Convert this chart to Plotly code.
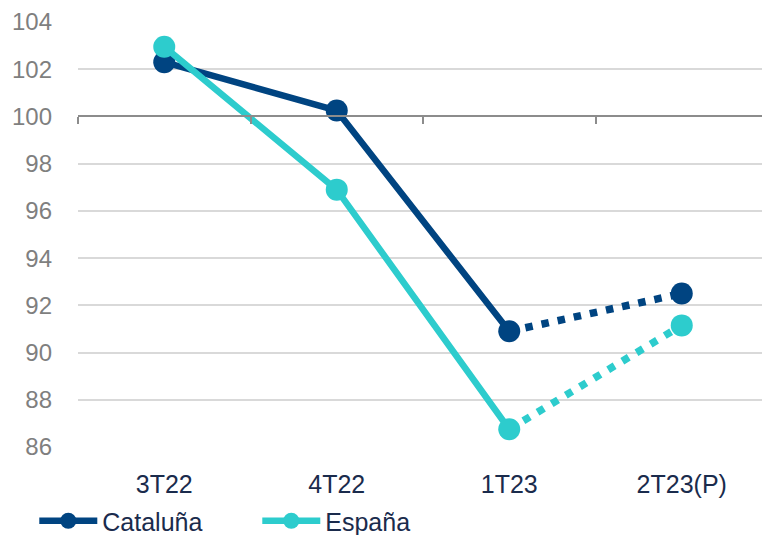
import plotly.graph_objects as go

categories = ["3T22", "4T22", "1T23", "2T23(P)"]
cataluna = [102.3, 100.25, 90.9, 92.5]
espana = [102.95, 96.9, 86.75, 91.15]
y_ticks = [86, 88, 90, 92, 94, 96, 98, 100, 102, 104]

NAVY = "#004481"
TEAL = "#2DCCCD"
FONT = "Liberation Sans, Arial, sans-serif"
TXT = "#1A2B4C"

fig = go.Figure()

def add_series(name, vals, color):
    # dotted projection segment
    fig.add_trace(go.Scatter(
        x=categories[2:], y=vals[2:], mode="lines",
        line=dict(color=color, width=7.5, dash="7.5px,9px"),
        showlegend=False, hoverinfo="skip"))
    fig.add_trace(go.Scatter(
        x=categories[3:], y=vals[3:], mode="markers",
        marker=dict(size=22, color=color, opacity=1),
        showlegend=False, hoverinfo="skip"))
    fig.add_trace(go.Scatter(
        x=categories[:3], y=vals[:3], mode="lines+markers", name=name,
        line=dict(color=color, width=6.5),
        marker=dict(size=22, color=color, opacity=1)))

add_series("Cataluña", cataluna, NAVY)
add_series("España", espana, TEAL)

ymin, ymax = 86, 104
# helper axis drawn at y=100 with boundary ticks
fig.add_trace(go.Scatter(x=categories, y=[None] * 4, xaxis="x2",
                         showlegend=False, hoverinfo="skip"))

xr = [-0.5, -0.5 + 684 / 172.5]
fig.update_layout(
    width=762, height=535,
    margin=dict(l=78, r=0, t=22, b=88),
    paper_bgcolor="white", plot_bgcolor="white",
    font=dict(family=FONT),
    xaxis=dict(type="category", categoryorder="array", categoryarray=categories,
               range=xr, showgrid=False, showline=False,
               ticks="", zeroline=False, ticklabelstandoff=20,
               tickfont=dict(size=25, color=TXT, family=FONT)),
    xaxis2=dict(type="category", categoryorder="array", categoryarray=categories,
                range=xr, overlaying="x", anchor="free",
                position=(100 - ymin) / (ymax - ymin), side="bottom",
                showline=True, linecolor="#8C8C8C", linewidth=1.5,
                ticks="outside", tickson="boundaries", ticklen=7,
                tickcolor="#8C8C8C", tickwidth=1.5,
                showticklabels=False, showgrid=False, zeroline=False),
    yaxis=dict(range=[ymin, ymax], tickvals=y_ticks, showgrid=True,
               gridcolor="#D9D9D9", gridwidth=1.5, zeroline=False,
               showline=False, ticks="", ticklabelstandoff=25,
               tickfont=dict(size=24, color="#7F7F7F", family=FONT)),
    legend=dict(orientation="h", xref="container", yref="container",
                x=0.045, y=1 - 521 / 535, xanchor="left", yanchor="middle",
                font=dict(size=25, color=TXT, family=FONT),
                itemwidth=58, entrywidth=150, tracegroupgap=0,
                bgcolor="rgba(0,0,0,0)"),
    showlegend=True,
)

fig.write_html("out.html")
